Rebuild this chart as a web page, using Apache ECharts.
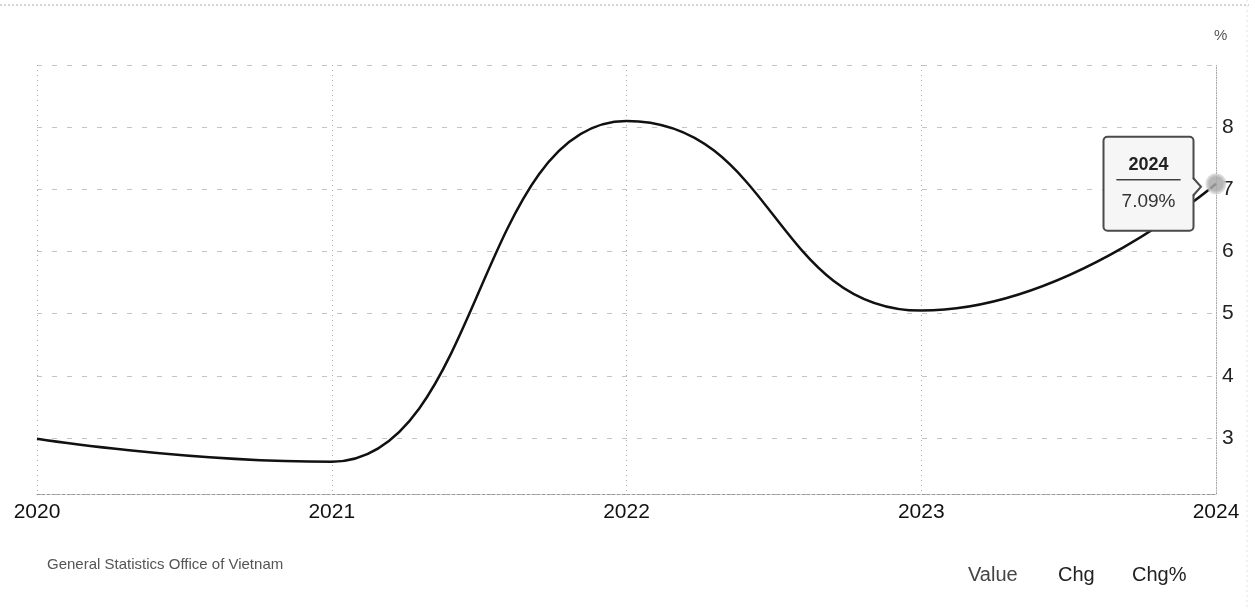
<!DOCTYPE html>
<html><head><meta charset="utf-8">
<script src="https://cdn.jsdelivr.net/npm/echarts@6/dist/echarts.min.js"></script>
<style>html,body{margin:0;padding:0;background:#fff}#c{width:1249px;height:610px}</style>
</head><body><div id="c"></div>
<script>
const years = [2020, 2021, 2022, 2023, 2024];
const values = [2.99, 2.62, 8.1, 5.05, 7.09];
const yTicks = [3, 4, 5, 6, 7, 8];
const unitLabel = '%';
const sourceText = 'General Statistics Office of Vietnam';
const footerButtons = ['Value', 'Chg', 'Chg%'];

const FONT = "'Liberation Sans', Arial, sans-serif";
const chart = echarts.init(document.getElementById('c'), null, {renderer: 'canvas'});
const last = years.length - 1;

const seriesData = years.map((y, i) => {
  const item = {value: [y, values[i]]};
  if (i === last) {
    item.symbol = 'circle';
    item.symbolSize = 18;
    item.itemStyle = {color: 'rgba(170,170,170,0.85)', borderColor: 'rgba(205,205,205,0.7)', borderWidth: 3};
    item.label = {
      show: true, position: 'left', distance: 13,
      formatter: '{y|' + y + '}\n{hr|}\n{v|' + values[i].toFixed(2) + unitLabel + '}',
      backgroundColor: '#f6f6f6', borderColor: '#4a4a4a', borderWidth: 2, borderRadius: 3,
      padding: [14, 12, 8, 12], width: 64,
      rich: {
        y: {fontFamily: FONT, fontSize: 18, fontWeight: 'bold', color: '#222', lineHeight: 26, align: 'center'},
        hr: {borderColor: '#333', width: '100%', borderWidth: 1, height: 0, lineHeight: 4},
        v: {fontFamily: FONT, fontSize: 19, color: '#333', lineHeight: 40, align: 'center'}
      }
    };
  }
  return item;
});

const option = {
  animation: false,
  backgroundColor: '#ffffff',
  grid: {left: 37, right: 33, top: 65, bottom: 116, containLabel: false},
  xAxis: {
    type: 'value', min: years[0], max: years[last], interval: 1,
    axisLine: {show: true, lineStyle: {color: '#999', type: [3, 2], width: 1}},
    axisTick: {show: false},
    axisLabel: {color: '#111', fontSize: 21, fontFamily: FONT, margin: 8, formatter: v => String(v)},
    splitLine: {show: true, lineStyle: {color: '#aaa', type: [1, 4], width: 1}}
  },
  yAxis: {
    type: 'value', position: 'right', min: 2.1, max: 9, splitNumber: 7,
    axisLine: {show: true, lineStyle: {color: '#aaa', type: [2, 3], width: 1}},
    axisTick: {show: false},
    axisLabel: {
      color: '#222', fontSize: 21, fontFamily: FONT, margin: 6,
      formatter: v => {
        const r = Math.round(v);
        return (Math.abs(v - r) < 1e-6 && yTicks.includes(r)) ? String(r) : '';
      }
    },
    splitLine: {show: true, lineStyle: {color: '#c4c4c4', type: [5, 10], width: 1}}
  },
  series: [{
    type: 'line', data: seriesData, symbol: 'none', showSymbol: true,
    smooth: 0.5, smoothMonotone: 'x',
    lineStyle: {color: '#111', width: 2.5},
    z: 3
  }],
  graphic: [
    {type: 'line', shape: {x1: 0, y1: 5, x2: 1249, y2: 5}, style: {stroke: '#aaa', lineWidth: 1, lineDash: [2, 2]}},
    {type: 'line', shape: {x1: 1247, y1: 0, x2: 1247, y2: 610}, style: {stroke: '#e2e2e2', lineWidth: 1, lineDash: [2, 3]}},
    {type: 'text', left: 1214, top: 28, style: {text: unitLabel, fontFamily: FONT, fontSize: 15, fill: '#555'}},
    {type: 'text', left: 47, top: 557, style: {text: sourceText, fontFamily: FONT, fontSize: 15, fill: '#555'}},
    {type: 'text', left: 968, top: 565, style: {text: footerButtons[0], fontFamily: FONT, fontSize: 20, fill: '#444'}},
    {type: 'text', left: 1058, top: 565, style: {text: footerButtons[1], fontFamily: FONT, fontSize: 20, fill: '#222'}},
    {type: 'text', left: 1132, top: 565, style: {text: footerButtons[2], fontFamily: FONT, fontSize: 20, fill: '#222'}}
  ]
};
chart.setOption(option);

// tooltip pointer arrow, anchored to the last data point via the axis scales
const p = chart.convertToPixel({gridIndex: 0}, [years[last], values[last]]);
const bx = p[0] - 23;
chart.setOption({
  graphic: option.graphic.concat([
    {type: 'polygon', z: 100, shape: {points: [[bx - 1.5, p[1] - 6], [bx + 8, p[1] + 3], [bx - 1.5, p[1] + 12]]}, style: {fill: '#f6f6f6'}},
    {type: 'polyline', z: 101, shape: {points: [[bx, p[1] - 6], [bx + 8, p[1] + 3], [bx, p[1] + 12]]}, style: {stroke: '#4a4a4a', lineWidth: 2, fill: null}}
  ])
});
</script>
</body></html>
